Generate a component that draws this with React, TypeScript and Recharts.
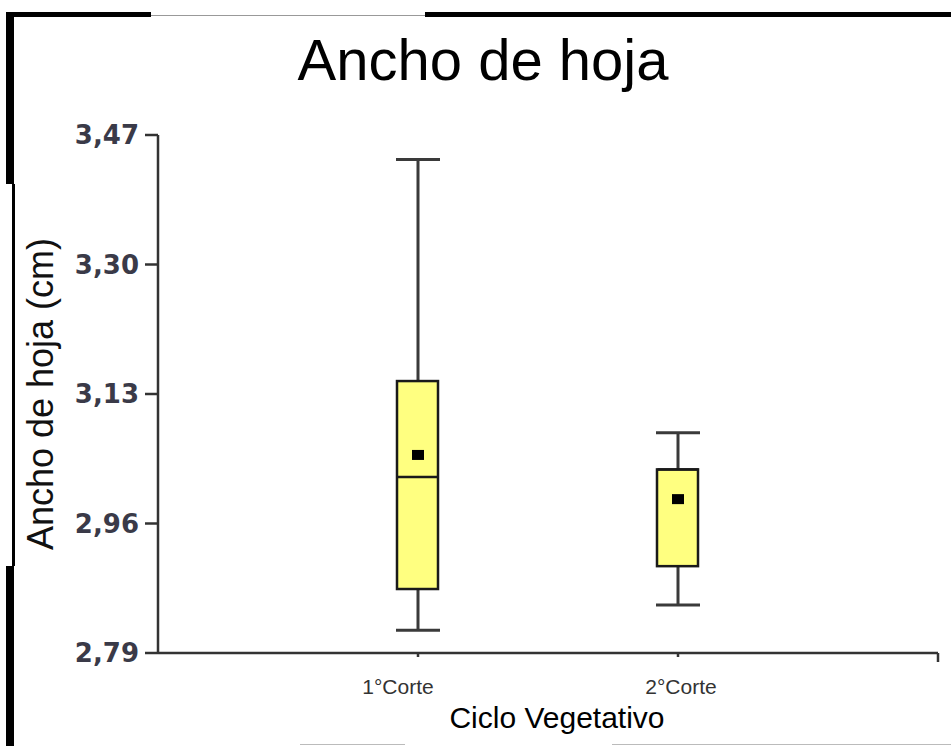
import React from 'react';
import { ComposedChart, Bar, Scatter, XAxis, YAxis, Label } from 'recharts';

// values
const CATEGORY_X = [1, 2];
const CATEGORY_LABELS = ['1°Corte', '2°Corte'];
const MIN_VALUES = [2.82, 2.853];
const Q1_VALUES = [2.874, 2.904];
const MEDIAN_VALUES = [3.021, 3.031];
const Q3_VALUES = [3.147, 3.031];
const MAX_VALUES = [3.438, 3.079];
const MEAN_VALUES = [3.05, 2.992];
const Y_TICKS = [2.79, 2.96, 3.13, 3.3, 3.47];
const X_TICKS = [1, 2, 3];
// the scanned labels sit a little off their ticks
const LABEL_DX = [-20, 3];

const data = CATEGORY_X.map((x, i) => ({
  x,
  label: CATEGORY_LABELS[i],
  whisker: [MIN_VALUES[i], MAX_VALUES[i]],
  box: [Q1_VALUES[i], Q3_VALUES[i]],
  median: MEDIAN_VALUES[i],
  mean: MEAN_VALUES[i],
}));

const FONT = '"Liberation Sans", Arial, sans-serif';
const BOX_W = 41;

function WhiskerShape(props: any) {
  const { x, y, width, height } = props;
  const top = Math.min(y, y + height);
  const bottom = Math.max(y, y + height);
  const cx = x + width / 2;
  return (
    <g stroke="#3a3a3a" strokeWidth={3}>
      <line x1={cx} x2={cx} y1={top} y2={bottom} />
      <line x1={x} x2={x + width} y1={top} y2={top} />
      <line x1={x} x2={x + width} y1={bottom} y2={bottom} />
    </g>
  );
}

function BoxShape(props: any) {
  const { x, y, width, height } = props;
  const top = Math.min(y, y + height);
  return (
    <rect x={x} y={top} width={width} height={Math.abs(height)}
      fill="#FFFF80" stroke="#1a1a1a" strokeWidth={2.5} />
  );
}

function MedianShape(props: any) {
  const { cx, cy } = props;
  return <line x1={cx - BOX_W / 2} x2={cx + BOX_W / 2} y1={cy} y2={cy} stroke="#1a1a1a" strokeWidth={2.5} />;
}

function MeanShape(props: any) {
  const { cx, cy } = props;
  return <rect x={cx - 6} y={cy - 5} width={12} height={10} fill="#000" />;
}

function XTick(props: any) {
  const { x, y, payload } = props;
  const idx = CATEGORY_X.indexOf(payload.value);
  const len = idx < 0 ? 9 : 4;
  return (
    <g>
      <line x1={x} x2={x} y1={y} y2={y + len} stroke="#333" strokeWidth={2.5} />
      {idx >= 0 && (
        <text x={x + LABEL_DX[idx]} y={y + 41} textAnchor="middle" fontSize={21} fill="#333" fontFamily={FONT}>
          {CATEGORY_LABELS[idx]}
        </text>
      )}
    </g>
  );
}

const fmt = (v: number) => v.toFixed(2).replace('.', ',');

export default function App() {
  return (
    <div style={{ position: 'absolute', left: 0, top: 0, width: 951, height: 746, background: '#fff', overflow: 'hidden' }}>
      {/* scanned frame */}
      <div style={{ position: 'absolute', left: 6, top: 12, width: 145, height: 5, background: '#000' }} />
      <div style={{ position: 'absolute', left: 151, top: 15, width: 274, height: 1, background: '#999' }} />
      <div style={{ position: 'absolute', left: 425, top: 12, width: 526, height: 5, background: '#000' }} />
      <div style={{ position: 'absolute', left: 6, top: 12, width: 8, height: 172, background: '#000' }} />
      <div style={{ position: 'absolute', left: 12, top: 184, width: 3, height: 382, background: '#000' }} />
      <div style={{ position: 'absolute', left: 6, top: 566, width: 8, height: 180, background: '#000' }} />
      <div style={{ position: 'absolute', left: 300, top: 744, width: 105, height: 1, background: '#bbb' }} />
      <div style={{ position: 'absolute', left: 612, top: 744, width: 339, height: 1, background: '#bbb' }} />

      <div style={{
        position: 'absolute', left: 483, top: 31, transform: 'translateX(-50%)',
        fontFamily: FONT, fontSize: 58, lineHeight: '58px', whiteSpace: 'nowrap', color: '#000',
      }}>
        Ancho de hoja
      </div>

      <ComposedChart width={951} height={746} data={data}
        margin={{ top: 135, right: 13, bottom: 0, left: 0 }}>
        <XAxis xAxisId="main" dataKey="x" type="number" domain={[0, 3]} ticks={X_TICKS}
          height={93} axisLine={{ stroke: '#333', strokeWidth: 2.5 }} tickLine={false}
          tickSize={0} tickMargin={0} tick={<XTick />} interval={0}>
          <Label value="Ciclo Vegetativo" position="insideBottom" offset={18} dx={9}
            style={{ fontFamily: FONT, fontSize: 30, fill: '#000' }} />
        </XAxis>
        <XAxis xAxisId="w" dataKey="x" type="number" domain={[0, 3]} ticks={X_TICKS} hide />
        <YAxis type="number" domain={[2.79, 3.47]} ticks={Y_TICKS} allowDataOverflow width={158}
          tickFormatter={fmt} tickSize={13} tickMargin={6} interval={0}
          axisLine={{ stroke: '#333', strokeWidth: 2.5 }}
          tickLine={{ stroke: '#333', strokeWidth: 2.5 }}
          tick={{ fontSize: 26, fontWeight: 'bold', fill: '#3a3a48', fontFamily: '"DejaVu Sans", sans-serif' }}>
          <Label value="Ancho de hoja (cm)" angle={-90} position="insideLeft" offset={40}
            style={{ fontFamily: FONT, fontSize: 36, fill: '#111', textAnchor: 'middle' }} />
        </YAxis>
        <Bar xAxisId="w" dataKey="whisker" barSize={44} shape={<WhiskerShape />} isAnimationActive={false} />
        <Bar xAxisId="main" dataKey="box" barSize={BOX_W} shape={<BoxShape />} isAnimationActive={false} />
        <Scatter xAxisId="main" dataKey="median" shape={<MedianShape />} isAnimationActive={false} />
        <Scatter xAxisId="main" dataKey="mean" shape={<MeanShape />} isAnimationActive={false} />
      </ComposedChart>
    </div>
  );
}
